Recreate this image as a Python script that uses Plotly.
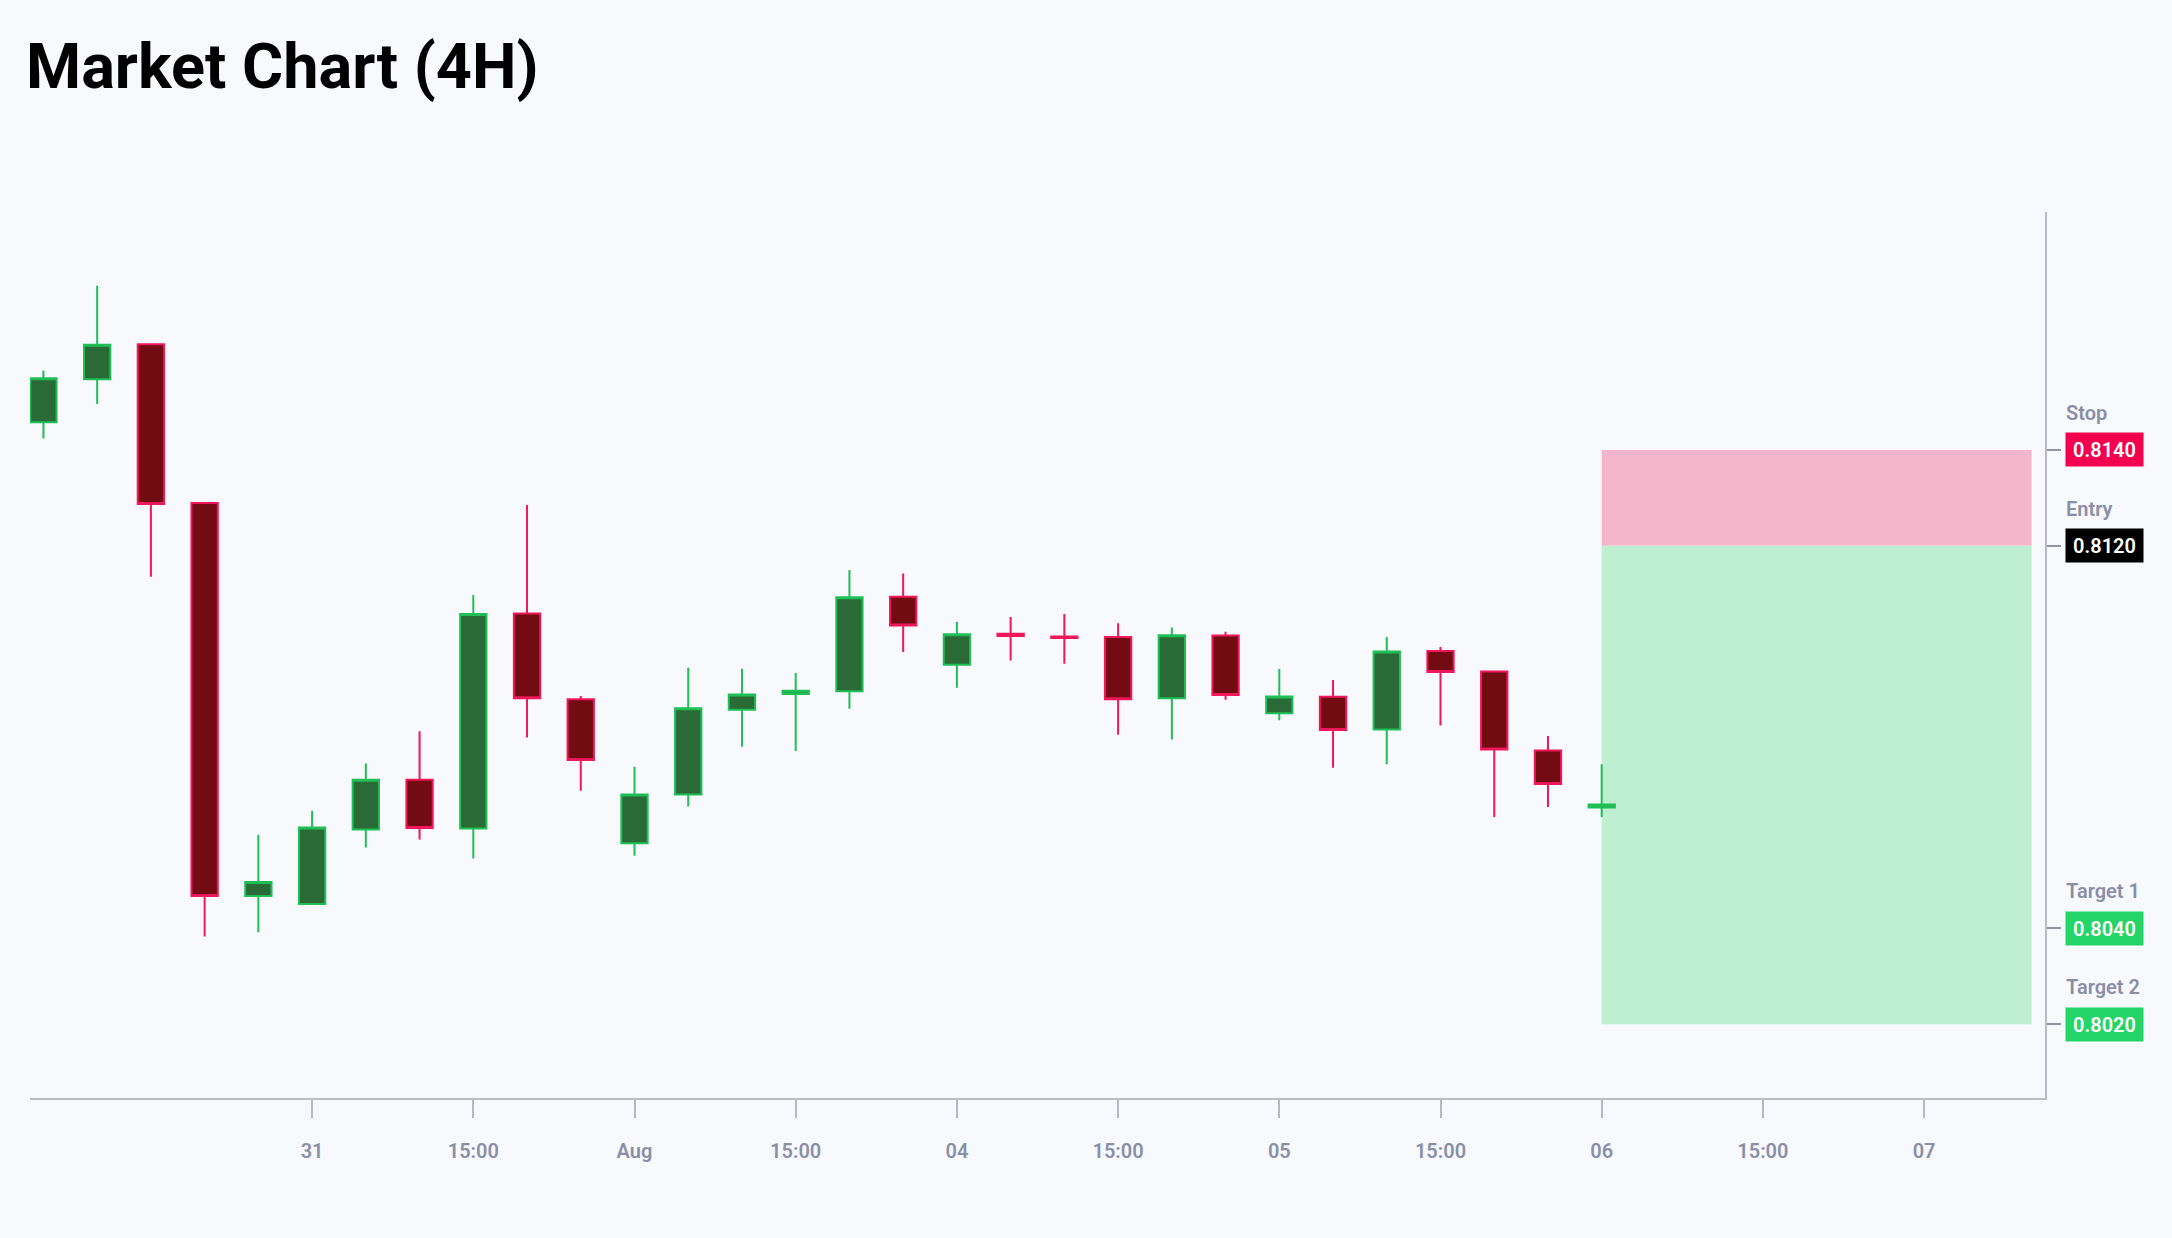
import plotly.graph_objects as go

# 4H candles (weekend Aug 2-3 has no data)
times = [
    "2025-07-30 04:00", "2025-07-30 08:00", "2025-07-30 12:00", "2025-07-30 16:00", "2025-07-30 20:00",
    "2025-07-31 00:00", "2025-07-31 04:00", "2025-07-31 08:00", "2025-07-31 12:00", "2025-07-31 16:00",
    "2025-07-31 20:00", "2025-08-01 00:00", "2025-08-01 04:00", "2025-08-01 08:00", "2025-08-01 12:00",
    "2025-08-01 16:00", "2025-08-01 20:00", "2025-08-04 00:00", "2025-08-04 04:00", "2025-08-04 08:00",
    "2025-08-04 12:00", "2025-08-04 16:00", "2025-08-04 20:00", "2025-08-05 00:00", "2025-08-05 04:00",
    "2025-08-05 08:00", "2025-08-05 12:00", "2025-08-05 16:00", "2025-08-05 20:00", "2025-08-06 00:00",
]
opens = [0.81458, 0.81548, 0.81621, 0.81289, 0.80468, 0.80451, 0.80607, 0.80711, 0.80609, 0.81058,
         0.80879, 0.80578, 0.80680, 0.80857, 0.80890, 0.80896, 0.81093, 0.80951, 0.81016, 0.81010,
         0.81009, 0.80881, 0.81012, 0.80850, 0.80884, 0.80816, 0.80980, 0.80937, 0.80772, 0.80653]
highs = [0.81566, 0.81743, 0.81621, 0.81289, 0.80596, 0.80646, 0.80745, 0.80812, 0.81097, 0.81285,
         0.80886, 0.80738, 0.80945, 0.80943, 0.80934, 0.81149, 0.81142, 0.81041, 0.81051, 0.81057,
         0.81038, 0.81029, 0.81020, 0.80942, 0.80919, 0.81009, 0.80988, 0.80937, 0.80802, 0.80743]
lows = [0.81424, 0.81496, 0.81135, 0.80383, 0.80392, 0.80451, 0.80569, 0.80586, 0.80546, 0.80799,
        0.80688, 0.80552, 0.80655, 0.80780, 0.80771, 0.80859, 0.80978, 0.80903, 0.80960, 0.80953,
        0.80805, 0.80795, 0.80878, 0.80835, 0.80736, 0.80743, 0.80824, 0.80633, 0.80654, 0.80633]
closes = [0.81550, 0.81620, 0.81287, 0.80468, 0.80497, 0.80611, 0.80711, 0.80610, 0.81057, 0.80881,
          0.80752, 0.80680, 0.80860, 0.80889, 0.80897, 0.81092, 0.81033, 0.81015, 0.81011, 0.81007,
          0.80879, 0.81013, 0.80888, 0.80885, 0.80815, 0.80979, 0.80936, 0.80774, 0.80702, 0.80659]

# trade levels
level_names = ["Stop", "Entry", "Target 1", "Target 2"]
level_values = [0.8140, 0.8120, 0.8040, 0.8020]
zone_start = "2025-08-06 00:00"
zone_end = "2025-08-07 08:00"

# x ticks
tick_times = ["2025-07-31 00:00", "2025-07-31 12:00", "2025-08-01 00:00", "2025-08-01 12:00",
              "2025-08-04 00:00", "2025-08-04 12:00", "2025-08-05 00:00", "2025-08-05 12:00",
              "2025-08-06 00:00", "2025-08-06 12:00", "2025-08-07 00:00"]
tick_labels = ["31", "15:00", "Aug", "15:00", "04", "15:00", "05", "15:00", "06", "15:00", "07"]
x_range = ["2025-07-30 03:00", "2025-08-07 09:00"]

# colours
bg = "#f7f9fd"
label_colors = {"Stop": "#f50050", "Entry": "#000000", "Target 1": "#22d566", "Target 2": "#22d566"}
grey_text = "#8a8fa8"

stop, entry = level_values[0], level_values[1]
lowest_target = min(level_values)

# y range with 10% padding
lo = min(min(lows), lowest_target)
hi = max(max(highs), stop)
pad = (hi - lo) * 0.1

fig = go.Figure()

fig.add_trace(go.Candlestick(
    x=times, open=opens, high=highs, low=lows, close=closes,
    increasing=dict(line=dict(color="#1fbf55", width=2), fillcolor="#2a6a37"),
    decreasing=dict(line=dict(color="#f0175a", width=2), fillcolor="#730b12"),
    showlegend=False,
))

# risk / reward zones
fig.add_shape(type="rect", xref="x", yref="y", x0=zone_start, x1=zone_end, y0=entry, y1=stop,
              fillcolor="#f5b5cb", line_width=0, layer="below")
fig.add_shape(type="rect", xref="x", yref="y", x0=zone_start, x1=zone_end, y0=lowest_target, y1=entry,
              fillcolor="#bdefd0", line_width=0, layer="below")

# level labels on the right
for name, val in zip(level_names, level_values):
    fig.add_annotation(
        xref="paper", yref="y", x=1, y=val, xanchor="left", yanchor="middle",
        xshift=20, text=f"{val:.4f}", showarrow=False,
        font=dict(family="Roboto", size=20, color="white", weight=600),
        bgcolor=label_colors[name], width=73, height=29, borderpad=2, align="center",
    )
    fig.add_annotation(
        xref="paper", yref="y", x=1, y=val, xanchor="left", yanchor="middle",
        xshift=19, yshift=37, text=name, showarrow=False,
        font=dict(family="Roboto", size=20, color=grey_text, weight=600),
    )

fig.update_layout(
    width=2172, height=1238,
    paper_bgcolor=bg, plot_bgcolor=bg,
    margin=dict(l=30, r=127, t=212, b=140, autoexpand=False),
    font=dict(family="Roboto", color=grey_text),
    title=dict(text="Market Chart (4H)", x=26 / 2172, xanchor="left", xref="container",
               y=1 - 66 / 1238, yanchor="middle", yref="container",
               font=dict(family="Roboto", size=63, color="#000000", weight=700)),
    showlegend=False,
)

fig.update_xaxes(
    type="date", range=x_range,
    rangebreaks=[dict(bounds=["sat", "mon"])],
    rangeslider_visible=False,
    tickmode="array", tickvals=tick_times, ticktext=tick_labels,
    showgrid=False, zeroline=False,
    showline=True, linecolor="#b8bcc5", linewidth=2,
    ticks="outside", ticklen=18, tickwidth=2, tickcolor="#b4bac2",
    tickfont=dict(family="Roboto", size=20, color=grey_text, weight=600),
    ticklabelstandoff=16, automargin=False,
)

fig.update_yaxes(
    side="right", range=[lo - pad, hi + pad],
    tickmode="array", tickvals=level_values, showticklabels=False,
    showgrid=False, zeroline=False,
    showline=True, linecolor="#b8bcc5", linewidth=2,
    ticks="outside", ticklen=14, tickwidth=2, tickcolor="#8f94a8",
    automargin=False,
)

# page without body margin so the figure fills the window
fig.write_html("out.html", config={"displayModeBar": False},
               post_script="document.body.style.margin='0';document.body.style.overflow='hidden';")
